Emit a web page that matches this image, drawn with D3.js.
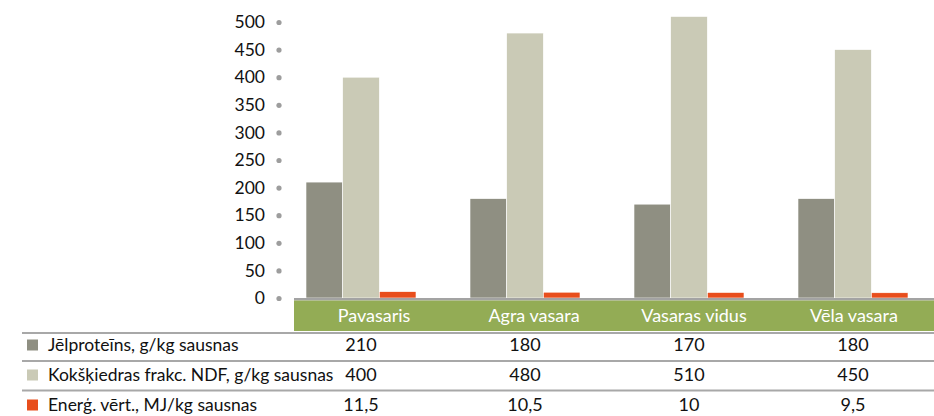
<!DOCTYPE html>
<html>
<head>
<meta charset="utf-8">
<script src="https://cdn.jsdelivr.net/npm/d3@7"></script>
<style>
  body { margin: 0; background: #fff; }
  svg { display: block; font-family: Lato, "Noto Sans", sans-serif; }
</style>
</head>
<body>
<div id="chart"></div>
<script>
// data
const categories = ["Pavasaris", "Agra vasara", "Vasaras vidus", "Vēla vasara"];
const seriesNames = ["Jēlproteīns, g/kg sausnas", "Kokšķiedras frakc. NDF, g/kg sausnas", "Enerģ. vērt., MJ/kg sausnas"];
const proteins = [210, 180, 170, 180];
const ndf = [400, 480, 510, 450];
const energy = [11.5, 10.5, 10, 9.5];
const energyLabels = ["11,5", "10,5", "10", "9,5"];
const yTicks = [0, 50, 100, 150, 200, 250, 300, 350, 400, 450, 500];

const width = 934, height = 416;
const colors = ["#8f8f82", "#cacab6", "#e84e1c"];
const seriesValues = [proteins, ndf, energy];
const seriesLabels = [proteins.map(String), ndf.map(String), energyLabels];

const svg = d3.select("#chart")
  .append("svg")
  .attr("width", width)
  .attr("height", height)
  .attr("viewBox", [0, 0, width, height]);

let y = d3.scaleLinear()
  .domain([0, 500])
  .range([298, 22]);

// groups of bars (and table value columns)
let x = d3.scaleBand()
  .domain(categories)
  .range([279, 935]);

let xs = d3.scaleBand()
  .domain(d3.range(seriesNames.length))
  .range([0, 110]);

// green header cells
let xh = d3.scaleBand()
  .domain(categories)
  .range([294, 934]);

// y axis with dots instead of tick lines
const yAxis = svg.append("g")
  .attr("transform", "translate(279,0)")
  .call(d3.axisLeft(y).tickValues(yTicks).tickSize(0).tickPadding(14));
yAxis.select(".domain").remove();
yAxis.selectAll(".tick text")
  .attr("font-size", 17.5)
  .attr("font-family", "Lato, 'Noto Sans', sans-serif")
  .attr("fill", "#111");
yAxis.selectAll(".tick").append("circle")
  .attr("r", 2.6)
  .attr("fill", "#9d9d9d");

// bars
const groups = svg.append("g")
  .selectAll("g")
  .data(categories)
  .join("g")
  .attr("transform", c => `translate(${x(c) + (x.bandwidth() - 110) / 2},0)`);

groups.selectAll("rect")
  .data((c, i) => seriesValues.map((s, k) => ({ k: k, v: s[i] })))
  .join("rect")
  .attr("x", d => xs(d.k))
  .attr("width", xs.bandwidth())
  .attr("y", d => y(d.v))
  .attr("height", d => y(0) - y(d.v))
  .attr("fill", d => colors[d.k])
  .attr("stroke", "#fff")
  .attr("stroke-width", 0.6);

// baseline
svg.append("rect")
  .attr("x", 294).attr("y", 298)
  .attr("width", width - 294).attr("height", 2.5)
  .attr("fill", "#a3a3a3");

// green header
svg.append("rect")
  .attr("x", 294).attr("y", 300.5)
  .attr("width", width - 294).attr("height", 30.5)
  .attr("fill", "#93ac55");

svg.append("g")
  .selectAll("text")
  .data(categories)
  .join("text")
  .attr("x", c => xh(c) + xh.bandwidth() / 2)
  .attr("y", 322)
  .attr("text-anchor", "middle")
  .attr("font-size", 18)
  .attr("fill", "#fff")
  .text(c => c);

// table lines
const rowLines = [332, 360, 389.5];
svg.append("g")
  .selectAll("rect")
  .data(rowLines)
  .join("rect")
  .attr("x", 22).attr("y", d => d)
  .attr("width", width - 22).attr("height", 2)
  .attr("fill", "#a8a8a8");

// table rows
const rowY = [345, 375, 405];
const rows = svg.append("g")
  .selectAll("g")
  .data(seriesNames)
  .join("g")
  .attr("transform", (s, i) => `translate(0,${rowY[i]})`);

rows.append("rect")
  .attr("x", 27).attr("y", -5.5)
  .attr("width", 11).attr("height", 11)
  .attr("fill", (s, i) => colors[i]);

rows.append("text")
  .attr("x", 48).attr("dy", "0.35em")
  .attr("font-size", 17.5)
  .attr("fill", "#111")
  .text(s => s);

rows.selectAll(".val")
  .data((s, i) => seriesLabels[i].map((v, j) => ({ v: v, c: categories[j] })))
  .join("text")
  .attr("class", "val")
  .attr("x", d => x(d.c) + x.bandwidth() / 2)
  .attr("dy", "0.35em")
  .attr("text-anchor", "middle")
  .attr("font-size", 18)
  .attr("fill", "#111")
  .text(d => d.v);
</script>
</body>
</html>
